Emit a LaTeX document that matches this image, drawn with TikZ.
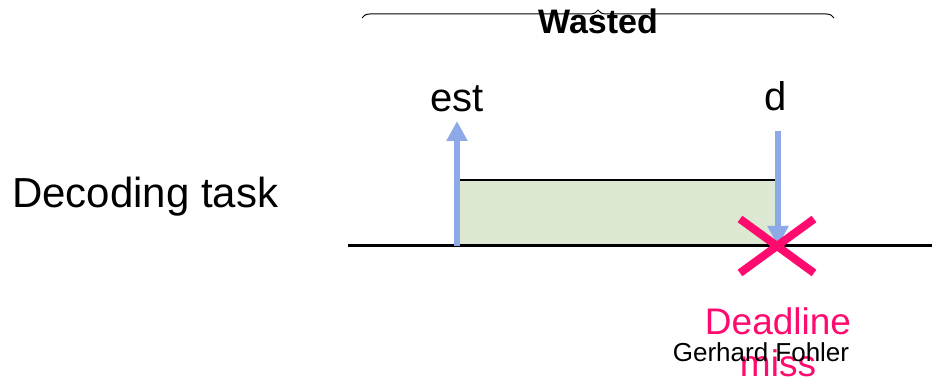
\documentclass[tikz,border=0pt]{standalone}
\usepackage{fontspec}
\setmainfont{Liberation Sans}
\usetikzlibrary{decorations.pathreplacing,arrows.meta}
\definecolor{arrowblue}{HTML}{8EA9E8}
\definecolor{misspink}{HTML}{FF0A6E}
\definecolor{slotgreen}{HTML}{DCE8D2}
\tikzset{
  marker/.style={draw=arrowblue,line width=6pt,-{Triangle[length=20pt,width=20pt]}},
  cross/.style={draw=misspink,line width=8pt},
  lbl/.style={inner sep=0pt,anchor=base}
}
\begin{document}
\begin{tikzpicture}[x=1pt,y=-1pt]
\useasboundingbox (0,0) rectangle (932,379);
% brace over the wasted interval
\coordinate (bl) at (362,18);
\coordinate (br) at (834,18);
\draw[line width=1pt,decorate,decoration={brace,amplitude=8pt}] (bl) -- (br);
\node[lbl,font=\bfseries\fontsize{34}{34}\selectfont] (wasted) at (598,34) {Wasted};
% task row
\node[lbl,font=\fontsize{42}{42}\selectfont,anchor=base west] (task) at (12,208) {Decoding task};
\coordinate (axl) at (348,246);
\coordinate (axr) at (932,246);
% execution slot
\fill[slotgreen] (458,180) rectangle (776,246);
\coordinate (tl) at (458,180);
\coordinate (tr) at (776,180);
\draw[line width=2pt] (tl) -- (tr);
\draw[line width=3pt] (axl) -- (axr);
% release and deadline markers
\coordinate (estb) at (457,246);
\coordinate (estt) at (457,121);
\draw[marker] (estb) -- (estt);
\coordinate (dt) at (778,131);
\coordinate (db) at (778,246);
\draw[marker] (dt) -- (db);
\node[lbl,font=\fontsize{40}{40}\selectfont] (est) at (457,112) {est};
\node[lbl,font=\fontsize{40}{40}\selectfont] (d) at (776,111) {d};
% deadline miss cross
\coordinate (c1) at (740,219);
\coordinate (c2) at (814,273);
\coordinate (c3) at (814,219);
\coordinate (c4) at (740,273);
\draw[cross] (c1) -- (c2);
\draw[cross] (c3) -- (c4);
\node[lbl,font=\fontsize{37}{37}\selectfont,text=misspink,align=center] (miss) at (778,335) {Deadline};
\node[lbl,font=\fontsize{37}{37}\selectfont,text=misspink] (miss2) at (778,377) {miss};
\node[lbl,font=\fontsize{26}{26}\selectfont] (author) at (761,362) {Gerhard Fohler};
\end{tikzpicture}
\end{document}
